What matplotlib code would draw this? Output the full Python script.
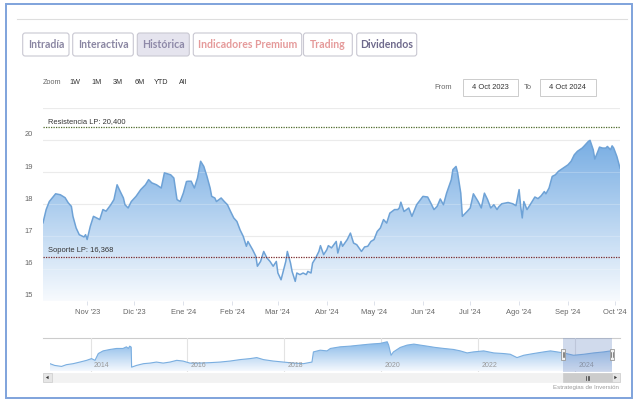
import matplotlib
matplotlib.use("Agg")
import matplotlib.pyplot as plt
import matplotlib.dates as mdates
import numpy as np
import pandas as pd
from matplotlib.patches import Rectangle, FancyBboxPatch, Polygon
from matplotlib.colors import LinearSegmentedColormap
from matplotlib.ticker import FuncFormatter

# ---------------------------------------------------------------- data
price_dates = [
    "2023-10-04", "2023-10-06", "2023-10-08", "2023-10-12", "2023-10-15", "2023-10-18",
    "2023-10-20", "2023-10-22", "2023-10-23", "2023-10-25", "2023-10-27", "2023-10-30",
    "2023-10-31", "2023-11-01", "2023-11-03", "2023-11-05", "2023-11-07", "2023-11-09",
    "2023-11-11", "2023-11-13", "2023-11-16", "2023-11-18", "2023-11-20", "2023-11-22",
    "2023-11-24", "2023-11-25", "2023-11-27", "2023-11-29", "2023-12-02", "2023-12-05",
    "2023-12-08", "2023-12-10", "2023-12-12", "2023-12-15", "2023-12-18", "2023-12-20",
    "2023-12-24", "2023-12-26", "2023-12-28", "2023-12-30", "2024-01-01", "2024-01-03",
    "2024-01-04", "2024-01-06", "2024-01-08", "2024-01-10", "2024-01-12", "2024-01-14",
    "2024-01-16", "2024-01-18", "2024-01-19", "2024-01-21", "2024-01-22", "2024-01-25",
    "2024-01-27", "2024-01-29", "2024-01-31", "2024-02-02", "2024-02-04", "2024-02-06",
    "2024-02-08", "2024-02-10", "2024-02-11", "2024-02-14", "2024-02-16", "2024-02-17",
    "2024-02-19", "2024-02-21", "2024-02-23", "2024-02-25", "2024-02-27", "2024-02-29",
    "2024-03-01", "2024-03-03", "2024-03-06", "2024-03-07", "2024-03-09", "2024-03-10",
    "2024-03-12", "2024-03-13", "2024-03-15", "2024-03-17", "2024-03-19", "2024-03-20",
    "2024-03-22", "2024-03-23", "2024-03-25", "2024-03-27", "2024-03-28", "2024-03-30",
    "2024-04-01", "2024-04-02", "2024-04-04", "2024-04-07", "2024-04-08", "2024-04-10",
    "2024-04-11", "2024-04-14", "2024-04-16", "2024-04-18", "2024-04-20", "2024-04-23",
    "2024-04-25", "2024-04-27", "2024-04-29", "2024-05-01", "2024-05-03", "2024-05-05",
    "2024-05-07", "2024-05-09", "2024-05-11", "2024-05-14", "2024-05-16", "2024-05-17",
    "2024-05-18", "2024-05-20", "2024-05-23", "2024-05-25", "2024-05-28", "2024-06-01",
    "2024-06-04", "2024-06-06", "2024-06-08", "2024-06-10", "2024-06-12", "2024-06-14",
    "2024-06-16", "2024-06-19", "2024-06-20", "2024-06-22", "2024-06-23", "2024-06-25",
    "2024-06-26", "2024-06-29", "2024-07-01", "2024-07-03", "2024-07-06", "2024-07-08",
    "2024-07-10", "2024-07-12", "2024-07-14", "2024-07-16", "2024-07-18", "2024-07-19",
    "2024-07-21", "2024-07-25", "2024-07-28", "2024-07-30", "2024-08-01", "2024-08-02",
    "2024-08-03", "2024-08-04", "2024-08-06", "2024-08-08", "2024-08-11", "2024-08-13",
    "2024-08-15", "2024-08-17", "2024-08-18", "2024-08-20", "2024-08-22", "2024-08-24",
    "2024-08-26", "2024-08-29", "2024-09-01", "2024-09-03", "2024-09-05", "2024-09-07",
    "2024-09-10", "2024-09-11", "2024-09-13", "2024-09-14", "2024-09-15", "2024-09-17",
    "2024-09-18", "2024-09-20", "2024-09-21", "2024-09-23", "2024-09-25", "2024-09-26",
    "2024-09-28", "2024-09-29", "2024-09-30", "2024-10-02", "2024-10-04",
]
price_close = [
    17.42, 17.83, 18.08, 18.32, 18.29, 18.20,
    18.04, 17.93, 17.62, 17.26, 17.05, 16.98,
    17.05, 16.90, 17.31, 17.62, 17.57, 17.52,
    17.83, 17.78, 17.98, 18.14, 18.60, 18.39,
    18.19, 17.98, 17.88, 18.08, 18.24, 18.45,
    18.60, 18.76, 18.66, 18.60, 18.50, 18.97,
    18.91, 18.81, 18.14, 18.08, 18.34, 18.70,
    18.71, 18.71, 18.50, 18.81, 19.33, 19.17,
    18.86, 18.50, 18.24, 18.19, 18.08, 18.19,
    18.08, 17.98, 17.77, 17.57, 17.46, 17.20,
    17.00, 16.69, 16.84, 16.58, 16.38, 16.07,
    16.22, 16.53, 16.33, 16.22, 16.07, 16.22,
    15.86, 15.65, 16.22, 16.53, 16.17, 15.91,
    15.60, 15.86, 15.81, 15.86, 15.81, 15.91,
    15.86, 16.17, 16.33, 16.53, 16.71, 16.43,
    16.58, 16.71, 16.64, 16.84, 16.48, 16.84,
    16.69, 16.90, 17.10, 16.79, 16.74, 16.53,
    16.67, 16.69, 16.84, 16.90, 17.15, 17.26,
    17.52, 17.41, 17.72, 17.83, 17.83, 17.88,
    18.06, 17.77, 17.88, 17.62, 17.98, 18.24,
    18.22, 18.03, 17.83, 17.93, 18.16, 17.98,
    18.34, 18.76, 19.07, 19.17, 18.97, 18.34,
    17.62, 17.77, 17.88, 18.32, 18.08, 17.88,
    18.34, 18.14, 17.88, 17.98, 17.83, 17.91,
    18.01, 18.05, 18.01, 17.95, 18.45, 17.93,
    17.57, 18.08, 17.83, 17.98, 18.22, 18.17,
    18.26, 18.39, 18.32, 18.50, 18.86, 18.91,
    19.02, 19.12, 19.22, 19.33, 19.53, 19.64,
    19.74, 19.79, 19.90, 19.95, 19.98, 19.69,
    19.40, 19.64, 19.77, 19.74, 19.74, 19.79,
    19.69, 19.81, 19.74, 19.48, 19.12,
]

resistance_level = 20.400
support_level = 16.368
resistance_label = "Resistencia LP: 20,400"
support_label = "Soporte LP: 16,368"

y_ticks = [15, 16, 17, 18, 19, 20, 21]
month_abbr = ["Ene", "Feb", "Mar", "Abr", "May", "Jun",
              "Jul", "Ago", "Sep", "Oct", "Nov", "Dic"]

history_dates = [
    "2013-03-01", "2013-04-05", "2013-05-27", "2013-07-02", "2013-08-22", "2013-10-12",
    "2013-12-02", "2014-01-08", "2014-02-03", "2014-02-28", "2014-04-05", "2014-05-27",
    "2014-07-16", "2014-09-02", "2014-09-28", "2014-10-12", "2014-10-23", "2014-11-03",
    "2014-11-06", "2014-12-13", "2015-02-03", "2015-03-25", "2015-05-12", "2015-07-02",
    "2015-08-22", "2015-10-12", "2015-11-28", "2016-01-19", "2016-04-05", "2016-06-17",
    "2016-09-02", "2016-11-17", "2017-01-30", "2017-04-16", "2017-06-06", "2017-07-27",
    "2017-10-08", "2017-12-24", "2018-03-11", "2018-05-23", "2018-07-27", "2018-08-07",
    "2018-09-27", "2018-11-17", "2018-12-13", "2019-02-24", "2019-05-12", "2019-07-24",
    "2019-10-08", "2019-12-24", "2020-02-14", "2020-02-25", "2020-03-14", "2020-04-01",
    "2020-05-22", "2020-07-13", "2020-09-02", "2020-10-20", "2020-12-10", "2021-02-10",
    "2021-04-16", "2021-06-28", "2021-08-18", "2021-10-08", "2021-11-25", "2022-02-10",
    "2022-04-27", "2022-07-09", "2022-08-29", "2022-10-19", "2022-12-09", "2023-02-21",
    "2023-05-08", "2023-06-28", "2023-08-18", "2023-10-04", "2023-12-20", "2024-03-07",
    "2024-05-19", "2024-08-03", "2024-09-24", "2024-10-04",
]
history_close = [
    7.2, 5.5, 4.5, 6.2, 7.2, 8.8,
    10.5, 12.2, 10.5, 17.2, 19.8, 21.2,
    22.2, 22.2, 23.8, 22.2, 24.5, 23.5,
    3.8, 5.5, 7.2, 7.8, 8.8, 7.8,
    8.8, 10.5, 9.8, 7.8, 7.8, 8.2,
    8.8, 9.8, 11.2, 12.2, 13.2, 11.2,
    9.8, 8.8, 7.8, 7.2, 8.8, 18.8,
    20.5, 19.8, 22.2, 23.8, 24.5, 25.5,
    26.5, 27.2, 28.8, 25.5, 15.5, 18.8,
    23.2, 25.5, 26.5, 25.5, 24.5, 23.2,
    22.2, 21.2, 19.8, 17.8, 18.8, 19.8,
    17.8, 17.2, 16.5, 13.2, 15.5, 17.2,
    18.8, 19.8, 18.8, 17.8, 15.5, 16.5,
    17.8, 18.8, 19.8, 19.0,
]
history_year_ticks = [2014, 2016, 2018, 2020, 2022, 2024]

tab_labels = ["Intradía", "Interactiva", "Histórica",
              "Indicadores Premium", "Trading", "Dividendos"]
zoom_labels = ["1W", "1M", "3M", "6M", "YTD", "All"]
range_from = "4 Oct 2023"
range_to = "4 Oct 2024"
credit_text = "Estrategias de Inversión"

# ---------------------------------------------------------------- canvas
W, H = 634, 401
fig = plt.figure(figsize=(W / 100, H / 100), dpi=100)
fig.patch.set_facecolor("white")

SANS = ["Liberation Sans", "DejaVu Sans"]
TAB_FONT = ["Lato", "DejaVu Sans"]


def axes_px(x0, y0, x1, y1, **kw):
    """Axes placed by pixel box (top-left origin)."""
    return fig.add_axes([x0 / W, 1 - y1 / H, (x1 - x0) / W, (y1 - y0) / H], **kw)


# page-level overlay in pixel coordinates
ui = fig.add_axes([0, 0, 1, 1], zorder=0)
ui.set_xlim(0, W)
ui.set_ylim(H, 0)
ui.axis("off")

# outer frame
ui.add_patch(Rectangle((6, 3.5), 626, 394, fill=False, edgecolor="#7fa3dc", lw=1.4))
ui.plot([17, 627], [19.3, 19.3], color="#dedede", lw=0.8)

# tab buttons
tab_boxes = [(22.7, 69.0), (72.7, 133.3), (137.3, 189.3),
             (193.3, 301.7), (303.5, 352.3), (356.7, 416.7)]
tab_colors = ["#8a86a2", "#8a86a2", "#8e89a8", "#e59a9a", "#e59a9a", "#6f6a8c"]
for (x0, x1), label, tc in zip(tab_boxes, tab_labels, tab_colors):
    face = "#e5e4ee" if label == "Histórica" else "white"
    ui.add_patch(FancyBboxPatch((x0, 33), x1 - x0, 23,
                                boxstyle="round,pad=0,rounding_size=2.5",
                                facecolor=face, edgecolor="#c9c8d2", lw=0.8))
    ui.text((x0 + x1) / 2, 44.8, label, ha="center", va="center",
            color=tc, fontsize=7.6, fontweight="bold", family=TAB_FONT)

# range selector row
ui.text(43, 82, "Zoom", ha="left", va="center", color="#666666", fontsize=5.2, family=SANS)
for i, zl in enumerate(zoom_labels):
    ui.text(74.5 + 21.7 * i, 82, zl, ha="center", va="center", color="#333333",
            fontsize=5.2, family=SANS)

ui.text(451.5, 87.5, "From", ha="right", va="center", color="#666666", fontsize=5.4, family=SANS)
ui.text(531.5, 87.5, "To", ha="right", va="center", color="#666666", fontsize=5.4, family=SANS)
for (x0, x1), txt in zip([(463.3, 518.0), (539.7, 595.7)], [range_from, range_to]):
    ui.add_patch(Rectangle((x0, 79.3), x1 - x0, 16.7, facecolor="white",
                           edgecolor="#cccccc", lw=0.7))
    ui.text((x0 + x1) / 2, 87.7, txt, ha="center", va="center",
            color="#333333", fontsize=5.4, family=SANS)


def gradient_area(ax, xs, ys, base, top, c_top, c_bottom, zorder=1):
    verts = [(xs[0], base)] + list(zip(xs, ys)) + [(xs[-1], base)]
    poly = Polygon(verts, closed=True, facecolor="none", edgecolor="none")
    ax.add_patch(poly)
    cmap = LinearSegmentedColormap.from_list("areafill", [c_bottom, c_top])
    grad = np.linspace(0, 1, 256).reshape(-1, 1)
    im = ax.imshow(grad, extent=[xs[0], xs[-1], base, top], origin="lower",
                   aspect="auto", cmap=cmap, zorder=zorder, interpolation="bilinear")
    im.set_clip_path(poly)


# ---------------------------------------------------------------- main chart
ax = axes_px(43, 107.5, 620, 300.7, zorder=2)
ax.set_facecolor("none")
px = mdates.date2num(pd.to_datetime(price_dates))
py = np.array(price_close)

gradient_area(ax, px, py, y_ticks[0], y_ticks[-1],
              (0.37, 0.62, 0.87), (0.97, 0.982, 0.996), zorder=1)
ax.plot(px, py, color="#6ea2d6", lw=1.1, zorder=3, solid_joinstyle="round")

# horizontal grid, faintly visible through the area fill
for v in y_ticks:
    ax.axhline(v, color="#e6e6e6", lw=0.8, zorder=0.5)
    ax.axhline(v, color="#ffffff", lw=0.8, alpha=0.22, zorder=2)

ax.axhline(resistance_level, color="#4f6a2a", lw=0.9, ls=(0, (1, 1)), zorder=4)
ax.axhline(support_level, color="#7a2a2a", lw=0.9, ls=(0, (1, 1)), zorder=4)
ax.annotate(resistance_label, xy=(0, resistance_level), xycoords=("axes fraction", "data"),
            xytext=(3.6, 1.6), textcoords="offset points", ha="left", va="bottom",
            fontsize=5.4, color="#333333", family=SANS, zorder=5)
ax.annotate(support_label, xy=(0, support_level), xycoords=("axes fraction", "data"),
            xytext=(3.6, 1.6), textcoords="offset points", ha="left", va="bottom",
            fontsize=5.4, color="#333333", family=SANS, zorder=5)

ax.set_xlim(pd.Timestamp(price_dates[0]), pd.Timestamp(price_dates[-1]))
ax.set_ylim(y_ticks[0], y_ticks[-1])
ax.set_yticks([])
for v in y_ticks[:-1]:
    ax.annotate(str(v), xy=(0, v), xycoords=("axes fraction", "data"),
                xytext=(-7.2, 3.4), textcoords="offset points", ha="right", va="center",
                fontsize=5.4, color="#666666", family=SANS)

ax.xaxis.set_major_locator(mdates.MonthLocator())
ax.xaxis.set_major_formatter(FuncFormatter(
    lambda v, _: f"{month_abbr[mdates.num2date(v).month - 1]} '{mdates.num2date(v).year % 100:02d}"))
ax.tick_params(axis="x", length=3, width=0.6, color="#d8dde8", direction="out",
               labelsize=5.4, labelcolor="#666666", pad=2.8)
for lbl in ax.get_xticklabels():
    lbl.set_family(SANS)
for s in ax.spines.values():
    s.set_visible(False)

# ---------------------------------------------------------------- navigator
ui.plot([43, 620], [338.3, 338.3], color="#cccccc", lw=0.8)
nav = axes_px(50, 338.3, 612, 371.5, zorder=2)
nav.set_facecolor("none")
hx = mdates.date2num(pd.to_datetime(history_dates))
hy = np.array(history_close)
nav_lo, nav_hi = -0.5, 32.2
gradient_area(nav, hx, hy, nav_lo, nav_hi,
              (0.47, 0.69, 0.9), (0.96, 0.975, 0.995), zorder=1)
nav.plot(hx, hy, color="#7aaee0", lw=0.8, zorder=3)
nav.set_xlim(hx[0], hx[-1])
nav.set_ylim(nav_lo, nav_hi)
nav.set_xticks([])
nav.set_yticks([])
for yr in history_year_ticks:
    nav.axvline(pd.Timestamp(f"{yr}-01-01"), color="#e3e3e3", lw=0.8, zorder=0.5)
    nav.annotate(str(yr), xy=(pd.Timestamp(f"{yr}-01-01"), 0), xycoords=("data", "axes fraction"),
                 xytext=(2.2, 4.2), textcoords="offset points", ha="left", va="center",
                 fontsize=5.0, color="#999999", family=SANS, zorder=4)
for s in nav.spines.values():
    s.set_visible(False)

# selected range mask on the navigator
sel0 = mdates.date2num(pd.Timestamp(price_dates[0]))
sel1 = mdates.date2num(pd.Timestamp(price_dates[-1]))
nav.axvspan(sel0, sel1, color=(0.4, 0.52, 0.76), alpha=0.3, lw=0, zorder=5)

# scrollbar and handles in pixel space
front = fig.add_axes([0, 0, 1, 1], zorder=6)
front.set_xlim(0, W)
front.set_ylim(H, 0)
front.axis("off")
to_px = nav.transData + front.transData.inverted()
m0 = to_px.transform((sel0, 0))[0]
m1 = to_px.transform((sel1, 0))[0]

front.add_patch(Rectangle((43, 373), 577, 9, facecolor="#f2f2f2", edgecolor="#f2f2f2", lw=0.5))
front.add_patch(Rectangle((m0, 373), m1 - m0, 9, facecolor="#cccccc", edgecolor="#cccccc", lw=0.5))
for gx in (-1.6, 0, 1.6):
    front.plot([(m0 + m1) / 2 + gx] * 2, [375.5, 379.5], color="#333333", lw=0.5)
for bx in (43, 611.5):
    front.add_patch(Rectangle((bx, 373), 8.5, 9, facecolor="#e6e6e6", edgecolor="#cccccc", lw=0.5))
front.add_patch(Polygon([(48.6, 375.8), (48.6, 379.2), (45.9, 377.5)], closed=True,
                        facecolor="#333333", edgecolor="none"))
front.add_patch(Polygon([(614.3, 375.8), (614.3, 379.2), (617.0, 377.5)], closed=True,
                        facecolor="#333333", edgecolor="none"))
for hxp in (m0, m1):
    front.add_patch(Rectangle((hxp - 2, 348.5), 4, 11, facecolor="#f2f2f2",
                              edgecolor="#999999", lw=0.6))
    front.plot([hxp - 0.6, hxp - 0.6], [351.5, 356.5], color="#333333", lw=0.4)
    front.plot([hxp + 0.6, hxp + 0.6], [351.5, 356.5], color="#333333", lw=0.4)

front.text(619, 388, credit_text, ha="right", va="center", fontsize=4.4,
           color="#9a9a9a", family=SANS)

fig.savefig("out.png", dpi=100, facecolor="white")
